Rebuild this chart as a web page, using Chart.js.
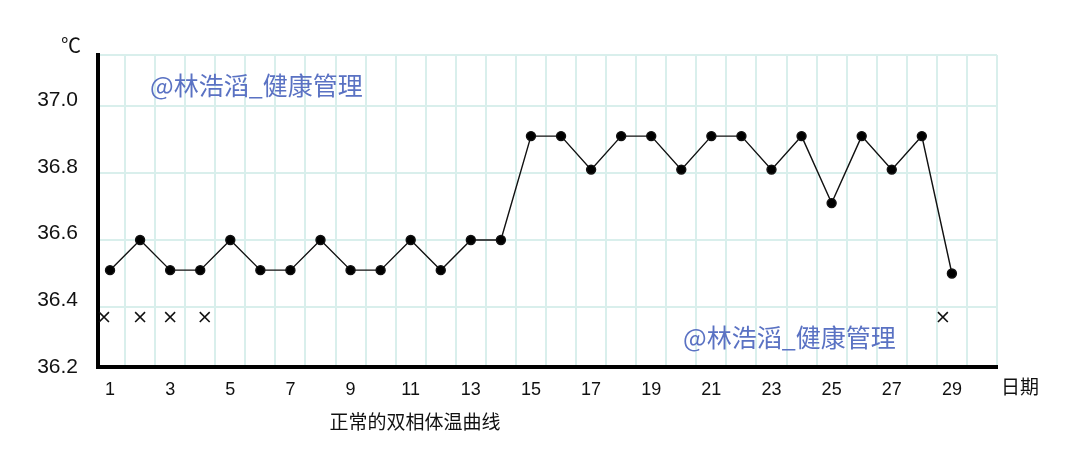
<!DOCTYPE html>
<html>
<head>
<meta charset="utf-8">
<script src="https://cdn.jsdelivr.net/npm/chart.js@4/dist/chart.umd.min.js"></script>
<style>
  html, body { margin: 0; padding: 0; background: #ffffff; }
  #wrap { width: 1080px; height: 466px; position: relative; }
</style>
</head>
<body>
<div id="wrap"><canvas id="chart"></canvas></div>
<script>
/* data */
const days = [1, 2, 3, 4, 5, 6, 7, 8, 9, 10, 11, 12, 13, 14, 15, 16, 17, 18, 19, 20, 21, 22, 23, 24, 25, 26, 27, 28, 29];
const temperatures = [36.51, 36.6, 36.51, 36.51, 36.6, 36.51, 36.51, 36.6, 36.51, 36.51, 36.6, 36.51, 36.6, 36.6, 36.91, 36.91, 36.81, 36.91, 36.91, 36.81, 36.91, 36.91, 36.81, 36.91, 36.71, 36.91, 36.81, 36.91, 36.5];
const markDays = [0.8, 2, 3, 4.15, 28.7];
const markValues = [36.37, 36.37, 36.37, 36.37, 36.37];
const xTickValues = [1, 3, 5, 7, 9, 11, 13, 15, 17, 19, 21, 23, 25, 27, 29];
const yTickValues = [36.2, 36.4, 36.6, 36.8, 37.0];
const yGridValues = [36.4, 36.6, 36.8, 37.0];
const watermarkText = '@林浩滔_健康管理';
const yUnit = '℃';
const xUnit = '日期';
const caption = '正常的双相体温曲线';

/* constants */
const X_MIN = 0.6;
const X_MAX = 30.5;
// the hand-drawn grid sits a little lower than its labels
const GRID_MIN = 36.221;
const GRID_MAX = 37.152;
const LABEL_MIN = 36.2;
const LABEL_MAX = 37.135;
const GRID_COLOR = '#d9efec';
const NUMBER_FONT = 'Liberation Sans, Arial, sans-serif';
const CJK_FONT = '"Noto Sans CJK SC", sans-serif';

/* utilities */
const gridTicks = () => {
  const ticks = [];
  for (let value = 1.5; value <= X_MAX + 0.01; value += 1) {
    ticks.push({ value: value });
  }
  return ticks;
};

const annotations = {
  id: 'annotations',
  afterDraw: (chart) => {
    const ctx = chart.ctx;
    ctx.save();
    ctx.fillStyle = '#5a72c3';
    ctx.font = '25px ' + CJK_FONT;
    ctx.textBaseline = 'middle';
    ctx.textAlign = 'left';
    ctx.fillText(watermarkText, 150, 85);
    ctx.fillText(watermarkText, 683, 337);

    ctx.fillStyle = '#111111';
    ctx.font = '20px ' + CJK_FONT;
    ctx.textAlign = 'center';
    ctx.fillText(yUnit, 71, 45);
    ctx.font = '19px ' + CJK_FONT;
    ctx.fillText(xUnit, 1020, 387);
    ctx.fillText(caption, 415, 422);
    ctx.restore();
  },
};

const createChart = () => {
  const element = document.querySelector('#chart');

  return new Chart(element, {
    type: 'scatter',
    data: {
      datasets: [
        {
          data: days.map((day, index) => ({ x: day, y: temperatures[index] })),
          showLine: true,
          borderColor: '#111111',
          borderWidth: 1.4,
          backgroundColor: '#000000',
          pointRadius: 4.5,
          pointHoverRadius: 4.5,
          tension: 0,
        },
        {
          data: markDays.map((day, index) => ({ x: day, y: markValues[index] })),
          showLine: false,
          pointStyle: 'crossRot',
          pointRadius: 7,
          borderColor: '#111111',
          borderWidth: 1.6,
        },
      ],
    },
    options: {
      responsive: false,
      animation: false,
      events: [],
      layout: {
        padding: { top: 55, right: 83, left: 0, bottom: 0 },
      },
      plugins: {
        legend: { display: false },
        tooltip: { enabled: false },
      },
      scales: {
        x: {
          type: 'linear',
          position: 'bottom',
          min: X_MIN,
          max: X_MAX,
          afterBuildTicks: (scale) => {
            scale.ticks = xTickValues.map((value) => ({ value: value }));
          },
          afterFit: (scale) => {
            scale.height = 99;
          },
          grid: { display: false },
          border: { display: true, color: '#000000', width: 4 },
          ticks: {
            color: '#111111',
            font: { family: NUMBER_FONT, size: 18 },
            padding: 4,
            maxRotation: 0,
            autoSkip: false,
          },
        },
        xg: {
          type: 'linear',
          position: 'bottom',
          min: X_MIN,
          max: X_MAX,
          afterBuildTicks: (scale) => {
            scale.ticks = gridTicks();
          },
          afterFit: (scale) => {
            scale.height = 0;
          },
          grid: { color: GRID_COLOR, lineWidth: 2, drawTicks: false },
          border: { display: false },
          ticks: { display: false },
        },
        y: {
          type: 'linear',
          position: 'left',
          min: GRID_MIN,
          max: GRID_MAX,
          afterBuildTicks: (scale) => {
            scale.ticks = yGridValues.concat([GRID_MAX]).map((value) => ({ value: value }));
          },
          afterFit: (scale) => {
            scale.width = 0;
          },
          grid: { color: GRID_COLOR, lineWidth: 2, drawTicks: false },
          border: { display: false },
          ticks: { display: false },
        },
        yl: {
          type: 'linear',
          position: 'left',
          min: LABEL_MIN,
          max: LABEL_MAX,
          afterBuildTicks: (scale) => {
            scale.ticks = yTickValues.map((value) => ({ value: value }));
          },
          afterFit: (scale) => {
            scale.width = 98;
          },
          grid: { display: false },
          border: { display: true, color: '#000000', width: 4 },
          ticks: {
            color: '#111111',
            font: { family: NUMBER_FONT, size: 21 },
            padding: 12,
            callback: (value) => value.toFixed(1),
          },
        },
      },
    },
    plugins: [annotations],
  });
};

document.addEventListener('DOMContentLoaded', () => {
  const canvas = document.querySelector('#chart');
  canvas.width = 1080;
  canvas.height = 466;
  createChart();
});
</script>
</body>
</html>
